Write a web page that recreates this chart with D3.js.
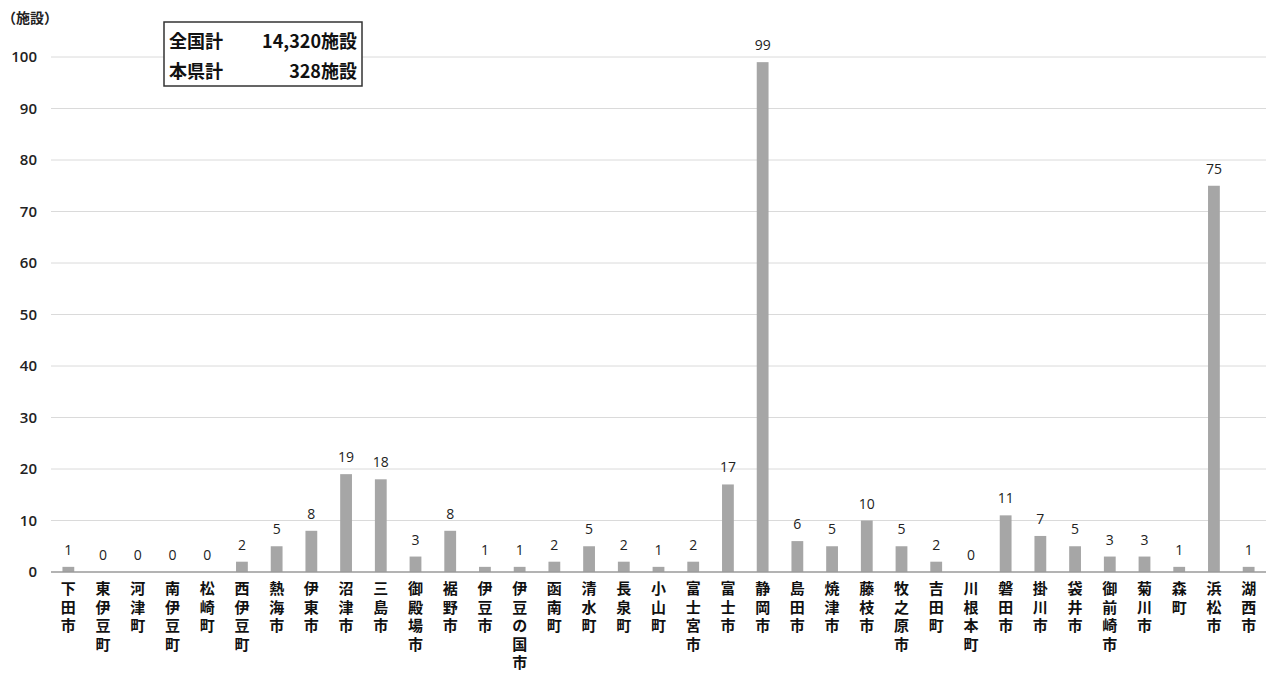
<!DOCTYPE html>
<html><head><meta charset="utf-8">
<script src="https://cdn.jsdelivr.net/npm/d3@7"></script>
<style>
body{margin:0;background:#fff;}
svg{display:block;}
</style></head>
<body>
<svg id="c" width="1269" height="674"></svg>
<script>
const categories = ["下田市","東伊豆町","河津町","南伊豆町","松崎町","西伊豆町","熱海市","伊東市","沼津市","三島市","御殿場市","裾野市","伊豆市","伊豆の国市","函南町","清水町","長泉町","小山町","富士宮市","富士市","静岡市","島田市","焼津市","藤枝市","牧之原市","吉田町","川根本町","磐田市","掛川市","袋井市","御前崎市","菊川市","森町","浜松市","湖西市"];
const values = [1,0,0,0,0,2,5,8,19,18,3,8,1,1,2,5,2,1,2,17,99,6,5,10,5,2,0,11,7,5,3,3,1,75,1];
const yTicks = [0,10,20,30,40,50,60,70,80,90,100];
const unitLabel = "（施設）";
const legendRows = [["全国計","14,320施設"],["本県計","328施設"]];

(function(){
const svg = d3.select("#c");
const pLeft = 51, pRight = 1266, pTop = 57, pBottom = 572;
const x = d3.scaleBand().domain(categories).range([pLeft, pRight]).paddingInner(0.66).paddingOuter(0.33);
const y = d3.scaleLinear().domain([0,100]).range([pBottom, pTop]);

const numFont = "'Open Sans','Liberation Sans',sans-serif";
const jpFont = "'Noto Sans CJK JP',sans-serif";

svg.append("g").selectAll("line").data(yTicks.filter(d=>d>0)).join("line")
  .attr("x1", pLeft).attr("x2", pRight)
  .attr("y1", d=>y(d)).attr("y2", d=>y(d))
  .attr("stroke", "#dadada").attr("stroke-width", 1);

const yAxis = d3.axisLeft(y).tickValues(yTicks).tickSize(0).tickPadding(14);
const ga = svg.append("g").attr("transform", `translate(${pLeft},0)`).call(yAxis);
ga.select(".domain").remove();
ga.selectAll("text").attr("font-family", numFont).attr("font-size", 15).attr("font-weight", 600).attr("fill", "#222");

svg.append("g").selectAll("rect").data(values).join("rect")
  .attr("x", (d,i)=>x(categories[i]))
  .attr("width", x.bandwidth())
  .attr("y", d=>y(d))
  .attr("height", d=>pBottom - y(d))
  .attr("fill", "#a6a6a6");

svg.append("line").attr("x1", pLeft).attr("x2", pRight).attr("y1", pBottom).attr("y2", pBottom)
  .attr("stroke", "#9a9a9a").attr("stroke-width", 1.3);

svg.append("g").selectAll("text").data(values).join("text")
  .attr("x", (d,i)=>x(categories[i]) + x.bandwidth()/2)
  .attr("y", d=>y(d) - 12)
  .attr("text-anchor", "middle")
  .attr("font-family", numFont).attr("font-size", 14).attr("fill", "#222")
  .text(d=>d);

const gl = svg.append("g");
categories.forEach((c,i)=>{
  const t = gl.append("text")
    .attr("font-family", jpFont).attr("font-weight", "bold").attr("font-size", 15)
    .attr("fill", "#111").attr("text-anchor", "middle");
  Array.from(c).forEach((ch,j)=>{
    t.append("tspan").attr("x", x(c) + x.bandwidth()/2).attr("y", 594 + j*18.5).text(ch);
  });
});

svg.append("text").attr("x", 2).attr("y", 23).attr("font-family", jpFont).attr("font-weight","bold")
  .attr("font-size", 14).attr("fill", "#222").text(unitLabel);

svg.append("rect").attr("x", 164).attr("y", 22).attr("width", 198).attr("height", 64)
  .attr("fill", "#fff").attr("stroke", "#333").attr("stroke-width", 1.5);
legendRows.forEach((r,i)=>{
  svg.append("text").attr("x", 169).attr("y", 48 + i*30).attr("font-family", jpFont).attr("font-weight","bold")
    .attr("font-size", 18).attr("fill", "#111").text(r[0]);
  svg.append("text").attr("x", 357).attr("y", 48 + i*30).attr("text-anchor","end").attr("font-family", jpFont).attr("font-weight","bold")
    .attr("font-size", 18).attr("fill", "#111").text(r[1]);
});
})();
</script>
</body></html>
